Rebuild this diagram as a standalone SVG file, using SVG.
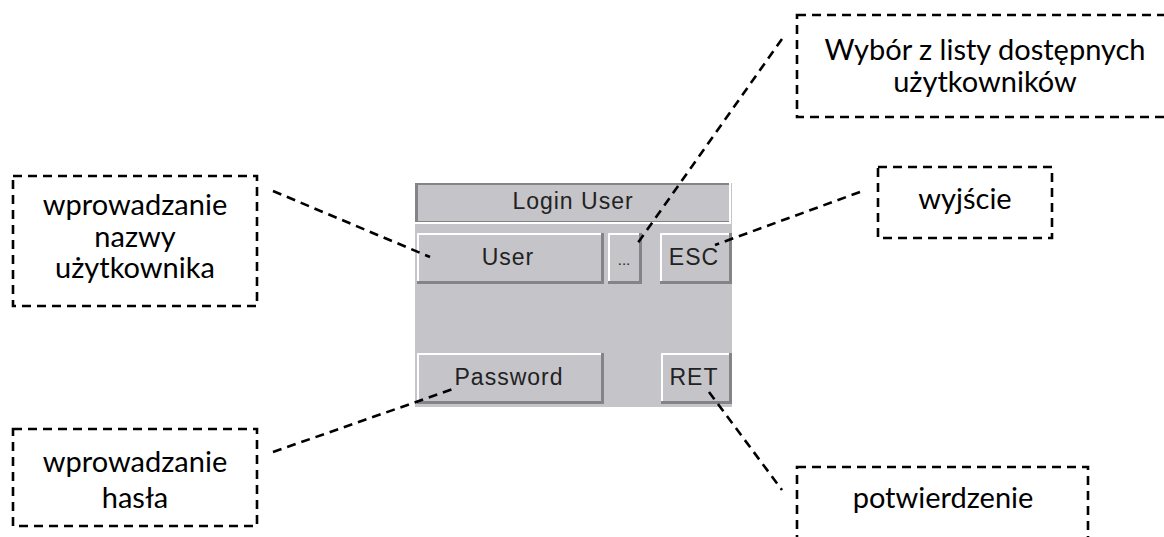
<svg xmlns="http://www.w3.org/2000/svg" width="1164" height="537" viewBox="0 0 1164 537">
  <style>
    .note { fill: none; stroke: #000; stroke-width: 2.6; stroke-dasharray: 9 6; }
    .label { font-family: "Lato", "Open Sans", sans-serif; font-size: 29px; fill: #000; text-anchor: middle; }
    .link { fill: none; stroke: #000; stroke-width: 2.6; stroke-dasharray: 9 6; }
    .face { fill: #c5c4c8; }
    .hi { fill: #ffffff; }
    .lo { fill: #848386; }
    .btn { font-family: "Liberation Sans", Arial, sans-serif; font-size: 23px; fill: #222; text-anchor: middle; letter-spacing: 1px; }
  </style>

  <rect width="1164" height="537" fill="#ffffff"/>

  <!-- login panel -->
  <g id="panel">
    <rect class="face" x="415" y="183" width="317" height="224"/>
  </g>
  <g id="title-bar">
    <rect class="hi" x="415" y="183" width="316" height="41"/>
    <rect class="lo" x="415" y="183" width="314" height="39"/>
    <rect class="face" x="418" y="185" width="311" height="36"/>
    <text class="btn" x="573" y="209">Login User</text>
  </g>
  <g id="btn-user">
    <rect class="lo" x="417" y="233" width="187" height="51"/>
    <rect class="hi" x="417" y="233" width="184" height="48"/>
    <rect class="face" x="419" y="235" width="182" height="46"/>
    <text class="btn" x="508" y="265">User</text>
  </g>
  <g id="btn-list">
    <rect class="lo" x="608" y="233" width="34" height="51"/>
    <rect class="hi" x="608" y="233" width="31" height="48"/>
    <rect class="face" x="610" y="235" width="29" height="46"/>
    <text class="btn" x="624" y="265" style="font-size:15px;letter-spacing:0">...</text>
  </g>
  <g id="btn-esc">
    <rect class="lo" x="660" y="233" width="72" height="51"/>
    <rect class="hi" x="660" y="233" width="69" height="48"/>
    <rect class="face" x="662" y="235" width="67" height="46"/>
    <text class="btn" x="694" y="265">ESC</text>
  </g>
  <g id="btn-password">
    <rect class="lo" x="417" y="353" width="187" height="51"/>
    <rect class="hi" x="417" y="353" width="184" height="48"/>
    <rect class="face" x="419" y="355" width="182" height="46"/>
    <text class="btn" x="509" y="385">Password</text>
  </g>
  <g id="btn-ret">
    <rect class="lo" x="661" y="353" width="71" height="51"/>
    <rect class="hi" x="661" y="353" width="68" height="48"/>
    <rect class="face" x="663" y="355" width="66" height="46"/>
    <text class="btn" x="694" y="385">RET</text>
  </g>

  <!-- callout boxes -->
  <g id="note-user">
    <rect class="note" x="13" y="176" width="244" height="130"/>
    <text class="label" x="135" y="215">wprowadzanie</text>
    <text class="label" x="135" y="247">nazwy</text>
    <text class="label" x="135" y="278">użytkownika</text>
  </g>
  <g id="note-list">
    <rect class="note" x="797" y="15" width="380" height="102"/>
    <text class="label" x="985" y="60">Wybór z listy dostępnych</text>
    <text class="label" x="985" y="92">użytkowników</text>
  </g>
  <g id="note-exit">
    <rect class="note" x="878" y="167" width="174" height="71"/>
    <text class="label" x="965" y="209">wyjście</text>
  </g>
  <g id="note-password">
    <rect class="note" x="13" y="429" width="244" height="97"/>
    <text class="label" x="135" y="472">wprowadzanie</text>
    <text class="label" x="135" y="508">hasła</text>
  </g>
  <g id="note-confirm">
    <rect class="note" x="797" y="467" width="291" height="100"/>
    <text class="label" x="943" y="508">potwierdzenie</text>
  </g>

  <!-- connectors -->
  <g id="connectors">
    <line class="link" x1="273" y1="191" x2="430" y2="257"/>
    <line class="link" x1="782" y1="39" x2="635" y2="247"/>
    <line class="link" x1="860" y1="192" x2="715" y2="245"/>
    <line class="link" x1="273" y1="452" x2="453" y2="389"/>
    <line class="link" x1="709" y1="392" x2="782" y2="490"/>
  </g>
</svg>
